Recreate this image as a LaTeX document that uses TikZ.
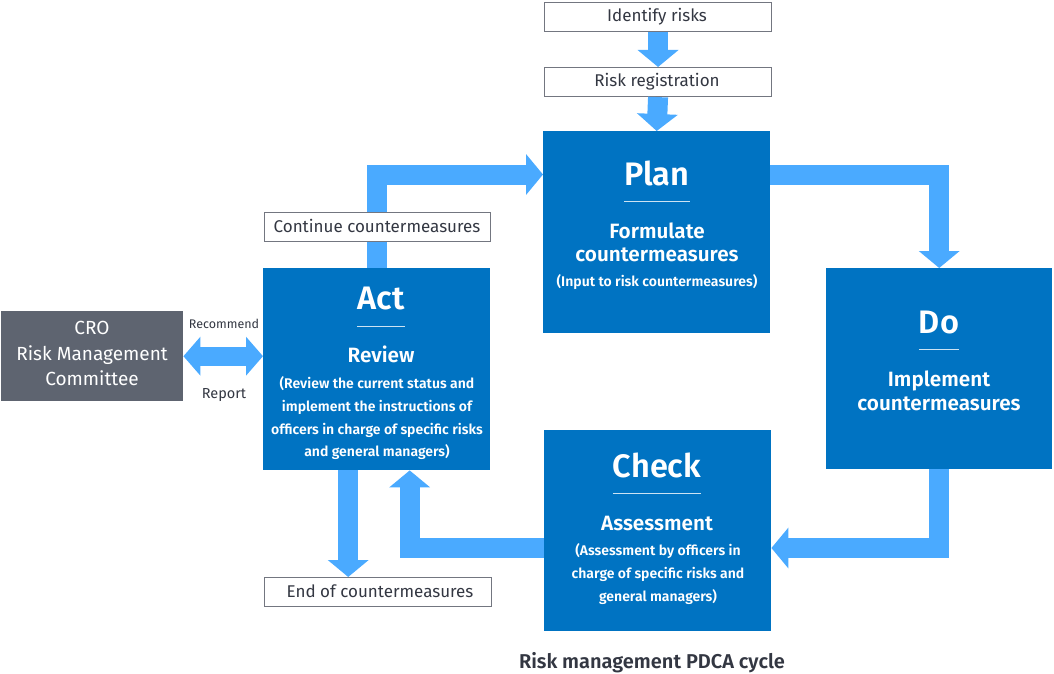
\documentclass[tikz,border=0pt]{standalone}
\usepackage{fontspec}
\setmainfont{Fira Sans}[BoldFont={Fira Sans SemiBold}]
\usetikzlibrary{arrows.meta,calc}
\definecolor{boxblue}{RGB}{0,115,194}
\definecolor{arrowblue}{RGB}{74,170,255}
\definecolor{crogray}{RGB}{94,100,112}
\definecolor{txtgray}{RGB}{51,55,66}
\definecolor{edgegray}{RGB}{115,118,128}
\begin{document}
\begin{tikzpicture}[x=1pt,y=-1pt,
  bluebox/.style={fill=boxblue,inner sep=0pt,anchor=north west,minimum height=202pt,minimum width=227pt},
  whitebox/.style={fill=white,draw=edgegray,line width=1.1pt,inner sep=0pt,anchor=north west,minimum height=29pt,minimum width=227pt,text=txtgray,font=\fontsize{17}{19}\selectfont},
  ttl/.style={text=white,inner sep=0pt,anchor=base,font=\bfseries\fontsize{32.5}{36}\selectfont},
  sub/.style={text=white,inner sep=0pt,anchor=base,font=\bfseries\fontsize{20.7}{23}\selectfont},
  par/.style={text=white,inner sep=0pt,anchor=base,font=\bfseries\fontsize{14}{16}\selectfont},
  rule/.style={draw=white!80!boxblue,line width=1pt},
  fat/.style={draw=arrowblue,line width=20pt,line join=miter,-{Triangle[length=17pt,width=40pt]}},
  lbl/.style={text=txtgray,inner sep=0pt,anchor=base,font=\fontsize{12.5}{15}\selectfont}]
\useasboundingbox (0,0) rectangle (1054,674);
% main boxes
\node[bluebox] (plan) at (543,131) {};
\node[bluebox,minimum width=226pt,minimum height=201pt] (do) at (826,268) {};
\node[bluebox] (act) at (263,268) {};
\node[bluebox,minimum height=201pt] (check) at (544,430) {};
\node[fill=crogray,inner sep=0pt,anchor=north west,minimum width=182pt,minimum height=90pt] (cro) at (1,311) {};
\node[whitebox] (ident) at (544,2) {};
\node[whitebox] (reg) at (544,67) {};
\node[whitebox,minimum width=227pt] (endc) at (264,577) {};
% arrows
\draw[fat] (ident.south) -- (reg.north);
\draw[fat] (reg.south) -- (plan.north);
\draw[fat] (act.north) |- ($(plan.north west)+(0,43.5)$);
\draw[fat] ($(plan.north east)+(0,43.5)$) -| (do.north);
\draw[fat] (do.south) |- ($(check.north east)+(0,118)$);
\draw[fat] ($(check.north west)+(0,118)$) -| ($(act.south)+(33,0)$);
\draw[fat] ($(act.south)+(-28.5,0)$) coordinate (ae) -- (ae |- endc.north);
\draw[draw=arrowblue,line width=19pt,{Triangle[length=17pt,width=38pt]}-{Triangle[length=17pt,width=38pt]}] (cro.east) -- (cro.east -| act.west);
\node[whitebox,minimum width=226pt] (cont) at (264,212) {};
% box texts
\node[whitebox,draw=none,fill=none,minimum width=0pt,minimum height=0pt,anchor=base] (identt) at (657,22) {Identify risks};
\node[whitebox,draw=none,fill=none,minimum width=0pt,minimum height=0pt,anchor=base] (regt) at (657,87) {Risk registration};
\node[whitebox,draw=none,fill=none,minimum width=0pt,minimum height=0pt,anchor=base] (contt) at (377,232) {Continue countermeasures};
\node[whitebox,draw=none,fill=none,minimum width=0pt,minimum height=0pt,anchor=base] (endt) at (380,597) {End of countermeasures};
% Plan
\node[ttl] (plant) at (657,185) {Plan};
\draw[rule] (plant.west |- 0,201) -- (plant.east |- 0,201);
\node[sub] (plan1) at (657,238) {Formulate};
\node[sub] (plan2) at (657,261) {countermeasures};
\node[par] (plan3) at (657,286) {(Input to risk countermeasures)};
% Do
\node[ttl] (dot) at (939,333) {Do};
\draw[rule] (dot.west |- 0,349) -- (dot.east |- 0,349);
\node[sub] (do1) at (939,386) {Implement};
\node[sub] (do2) at (939,410) {countermeasures};
% Act
\node[ttl] (actt) at (381,309) {Act};
\draw[rule] (actt.west |- 0,326) -- (actt.east |- 0,326);
\node[sub] (act1) at (381,362) {Review};
\node[par] (act2) at (377,388) {(Review the current status and};
\node[par] (act3) at (377,411) {implement the instructions of};
\node[par] (act4) at (377,434) {officers in charge of specific risks};
\node[par] (act5) at (377,456) {and general managers)};
% Check
\node[ttl] (checkt) at (657,477) {Check};
\draw[rule] (checkt.west |- 0,493) -- (checkt.east |- 0,493);
\node[sub] (check1) at (657,530) {Assessment};
\node[par] (check2) at (658,555) {(Assessment by officers in};
\node[par] (check3) at (658,578) {charge of specific risks and};
\node[par] (check4) at (658,601) {general managers)};
% CRO
\node[text=white,inner sep=0pt,anchor=base,font=\fontsize{19}{21}\selectfont] (cro1) at (92,334) {CRO};
\node[text=white,inner sep=0pt,anchor=base,font=\fontsize{19}{21}\selectfont] (cro2) at (92,360) {Risk Management};
\node[text=white,inner sep=0pt,anchor=base,font=\fontsize{19}{21}\selectfont] (cro3) at (92,385) {Committee};
\node[lbl] (rec) at (224,328) {Recommend};
\node[lbl,font=\fontsize{14.5}{16}\selectfont] (rep) at (224,398) {Report};
% caption
\node[text=txtgray,inner sep=0pt,anchor=base,font=\bfseries\fontsize{20}{23}\selectfont] (cap) at (652,668) {Risk management PDCA cycle};
\end{tikzpicture}
\end{document}
